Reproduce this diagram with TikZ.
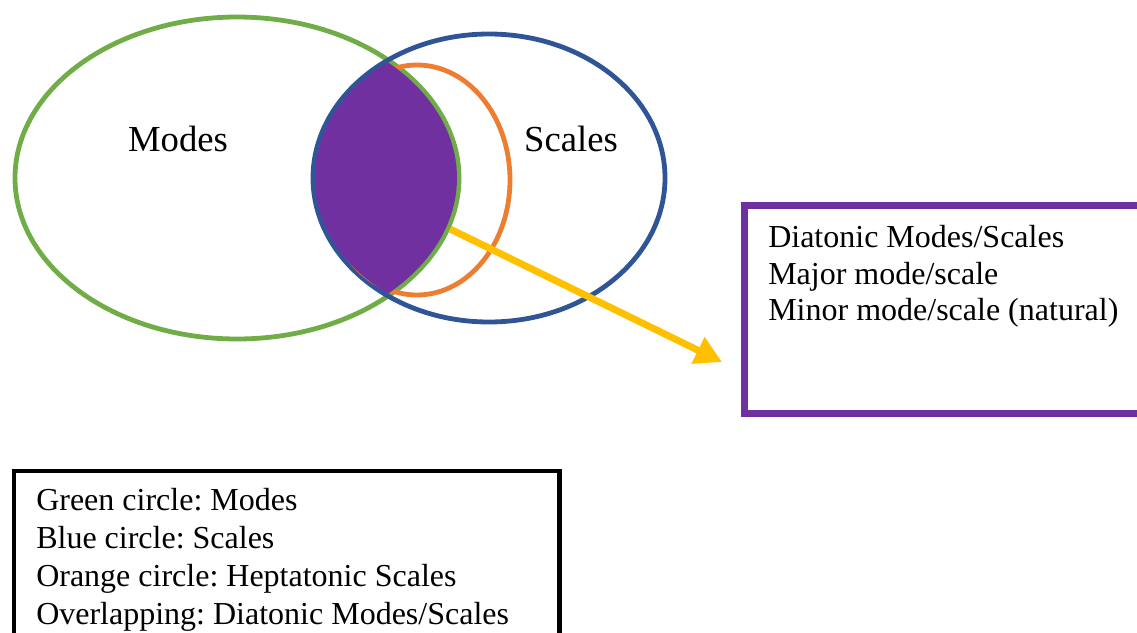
\documentclass[tikz,border=0pt]{standalone}
\usepackage{fontspec}
\setmainfont{Liberation Serif}
\usetikzlibrary{arrows.meta}
\definecolor{vgreen}{HTML}{70AD47}
\definecolor{vblue}{HTML}{2F5597}
\definecolor{vorange}{HTML}{ED7D31}
\definecolor{vpurple}{HTML}{7030A0}
\definecolor{vyellow}{HTML}{FFC000}
\frenchspacing
\begin{document}
\begin{tikzpicture}[x=0.75pt,y=-0.75pt,
  ring/.style={line width=3.6pt},
  biglabel/.style={font=\fontsize{27.5}{30}\selectfont, inner sep=0pt, anchor=base},
  boxtext/.style={align=left, inner sep=0pt, anchor=north west},
  infobox/.style={draw, inner sep=0pt, anchor=north west}]
\useasboundingbox (0,0) rectangle (1137,632);
% circles
\draw[ring, vgreen] (237,178) ellipse [x radius=166.5pt, y radius=120.75pt];
\draw[ring, vblue] (489,178) ellipse [x radius=132pt, y radius=108pt];
\draw[ring, vorange] (417,180) ellipse [x radius=69.75pt, y radius=86.25pt];
% overlap
\begin{scope}
  \clip (237,178) ellipse [x radius=165pt, y radius=119.25pt];
  \fill[vpurple] (489,178) ellipse [x radius=130.5pt, y radius=106.5pt];
\end{scope}
% labels
\node[biglabel] (modes) at (178,151) {Modes};
\node[biglabel] (scales) at (571,151) {Scales};
% arrow
\coordinate (astart) at (450,229);
\coordinate (aend) at (722,362);
\draw[vyellow, line width=5.2pt, -{Triangle[length=20pt,width=21pt]}] (astart) -- (aend);
% purple box
\node[infobox, draw=vpurple, line width=5.2pt, minimum width=306pt, minimum height=156pt] (pbox) at (741,202) {};
\node[boxtext, font=\fontsize{24}{27.5}\selectfont] (ptext) at (768,225)
  {Diatonic Modes/Scales\\Major mode/scale\\Minor mode/scale (natural)};
% legend box
\node[infobox, draw=black, line width=3.2pt, minimum width=409pt, minimum height=137pt] (lbox) at (12,469) {};
\node[boxtext, font=\fontsize{24}{28.5}\selectfont] (ltext) at (36,488)
  {Green circle: Modes\\Blue circle: Scales\\Orange circle: Heptatonic Scales\\Overlapping: Diatonic Modes/Scales};
\end{tikzpicture}
\end{document}
